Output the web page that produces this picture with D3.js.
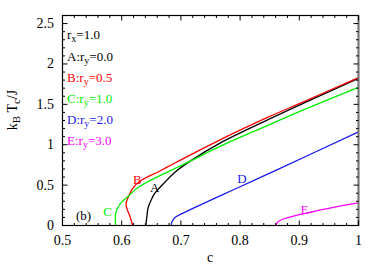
<!DOCTYPE html>
<html>
<head>
<meta charset="utf-8">
<script src="https://cdn.jsdelivr.net/npm/d3@7"></script>
<style>
  body { margin: 0; background: #fff; }
  text { font-family: "Liberation Serif", "DejaVu Serif", serif; }
</style>
</head>
<body>
<div id="chart"></div>
<script>
// values: [c, kB Tc / J]
var curveA = [[0.6407, 0], [0.6424, 0.1], [0.6446, 0.22], [0.650, 0.32], [0.656, 0.40], [0.6644, 0.47],
    [0.690, 0.66], [0.715, 0.794], [0.766, 1.02], [0.85, 1.32], [0.90, 1.49], [1.0, 1.82]];
var curveB = [[0.6186, 0], [0.614, 0.11], [0.6073, 0.26], [0.6115, 0.36], [0.6186, 0.46], [0.6305, 0.547],
    [0.6644, 0.675], [0.690, 0.774], [0.766, 1.06], [0.85, 1.35], [0.90, 1.51], [1.0, 1.83]];
var curveC = [[0.5898, 0], [0.5898, 0.15], [0.5966, 0.26], [0.6107, 0.36], [0.6305, 0.485],
    [0.715, 0.794], [0.766, 0.98], [0.85, 1.25], [0.90, 1.41], [1.0, 1.71]];
var curveD = [[0.684, 0], [0.6845, 0.04], [0.690, 0.10], [0.700, 0.14], [0.80, 0.48], [0.864, 0.695], [1.0, 1.16]];
var curveE = [[0.8605, 0], [0.862, 0.03], [0.868, 0.065], [0.890, 0.115], [0.919, 0.164], [0.947, 0.21], [1.0, 0.28]];

var seriesNames = ["A", "B", "C", "D", "E"];
var seriesColors = ["#000000", "#ff0000", "#00f000", "#1a1aee", "#ff00ff"];
var ryValues = ["0.0", "0.5", "1.0", "2.0", "3.0"];
// where each letter sits next to its curve
var letterPos = [[0.648, 0.42], [0.619, 0.51], [0.569, 0.12], [0.795, 0.53], [0.902, 0.14]];

var xTicks = [0.5, 0.6, 0.7, 0.8, 0.9, 1];
var yTicks = [0, 0.5, 1, 1.5, 2, 2.5];

var W = 382, H = 267;
var pLeft = 62.5, pRight = 358.5, pTop = 15.5, pBottom = 225.5;

var x = d3.scaleLinear().domain([0.5, 1]).range([pLeft, pRight]);
var y = d3.scaleLinear().domain([0, 2.6]).range([pBottom, pTop]);

var svg = d3.select("#chart").append("svg")
    .attr("width", W)
    .attr("height", H);

// curves
var line = d3.line()
    .x(function (d) { return x(d[0]); })
    .y(function (d) { return y(d[1]); })
    .curve(d3.curveCatmullRom.alpha(0.5));

var curves = [curveA, curveB, curveC, curveD, curveE];
curves.forEach(function (pts, i) {
    svg.append("path")
        .attr("d", line(pts))
        .attr("fill", "none")
        .attr("stroke", seriesColors[i])
        .attr("stroke-width", 1.3);
});

// frame
svg.append("rect")
    .attr("x", pLeft).attr("y", pTop)
    .attr("width", pRight - pLeft).attr("height", pBottom - pTop)
    .attr("fill", "none").attr("stroke", "#000").attr("stroke-width", 1.2);
svg.append("line")
    .attr("x1", pRight).attr("x2", pRight).attr("y1", pTop).attr("y2", pBottom)
    .attr("stroke", "#777").attr("stroke-width", 2);

// inward ticks on all sides
var xMinor = d3.range(0.5, 1.001, 0.02);
var yMinor = d3.range(0, 2.601, 0.1);
var g = svg.append("g").attr("stroke", "#000").attr("stroke-width", 1);
xMinor.forEach(function (v) {
    var major = xTicks.some(function (t) { return Math.abs(t - v) < 1e-6; });
    var len = major ? 5 : 2.5;
    g.append("line").attr("x1", x(v)).attr("x2", x(v)).attr("y1", pBottom).attr("y2", pBottom - len);
    g.append("line").attr("x1", x(v)).attr("x2", x(v)).attr("y1", pTop).attr("y2", pTop + len);
});
yMinor.forEach(function (v) {
    var major = yTicks.some(function (t) { return Math.abs(t - v) < 1e-6; });
    var len = major ? 5 : 2.5;
    g.append("line").attr("x1", pLeft).attr("x2", pLeft + len).attr("y1", y(v)).attr("y2", y(v));
    g.append("line").attr("x1", pRight).attr("x2", pRight - len).attr("y1", y(v)).attr("y2", y(v));
});

// tick labels
svg.selectAll(".xl").data(xTicks).enter().append("text")
    .attr("x", function (d) { return x(d); })
    .attr("y", 245)
    .attr("text-anchor", "middle")
    .style("font-size", "14px")
    .text(function (d) { return d; });
svg.selectAll(".yl").data(yTicks).enter().append("text")
    .attr("x", 54)
    .attr("y", function (d) { return y(d) + 4.5; })
    .attr("text-anchor", "end")
    .style("font-size", "14px")
    .text(function (d) { return d; });

// axis titles
svg.append("text")
    .attr("x", 210).attr("y", 262)
    .attr("text-anchor", "middle")
    .style("font-size", "14px")
    .text("c");
var yt = svg.append("text")
    .attr("transform", "translate(17,110) rotate(-90)")
    .attr("text-anchor", "middle")
    .style("font-size", "14px");
yt.append("tspan").text("k");
yt.append("tspan").attr("dy", 3).style("font-size", "11px").text("B");
yt.append("tspan").attr("dy", -3).text(" T");
yt.append("tspan").attr("dy", 3).style("font-size", "11px").text("c");
yt.append("tspan").attr("dy", -3).text("/J");

// legend text
var lx = 67;
var rx = svg.append("text").attr("x", lx).attr("y", 39).style("font-size", "13px");
rx.append("tspan").text("r");
rx.append("tspan").attr("dy", 3).style("font-size", "10px").text("x");
rx.append("tspan").attr("dy", -3).text("=1.0");

var legY = [61, 82, 103, 124, 145];
seriesNames.forEach(function (n, i) {
    var t = svg.append("text").attr("x", lx).attr("y", legY[i])
        .attr("fill", seriesColors[i]).style("font-size", "13px");
    t.append("tspan").text(n + ":r");
    t.append("tspan").attr("dy", 3).style("font-size", "10px").text("y");
    t.append("tspan").attr("dy", -3).text("=" + ryValues[i]);
});

// curve letters
seriesNames.forEach(function (n, i) {
    svg.append("text")
        .attr("x", x(letterPos[i][0]))
        .attr("y", y(letterPos[i][1]))
        .attr("fill", seriesColors[i])
        .style("font-size", "13px")
        .text(n);
});

svg.append("text").attr("x", 76).attr("y", 220).style("font-size", "13px").text("(b)");
</script>
</body>
</html>
